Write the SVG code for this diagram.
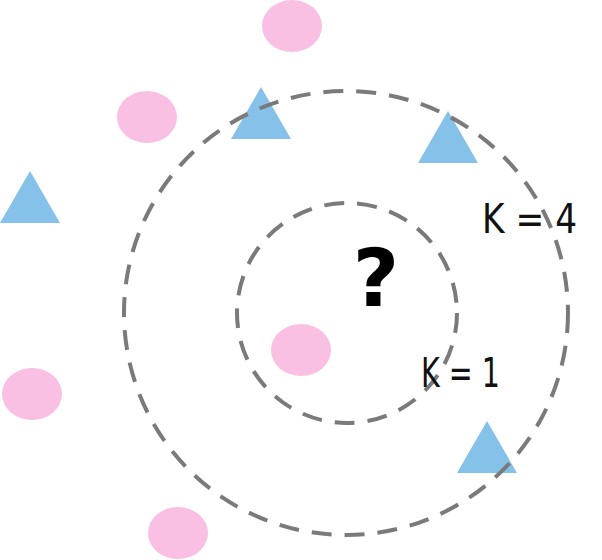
<svg xmlns="http://www.w3.org/2000/svg" width="602" height="560" viewBox="0 0 602 560">
<style>
.pt{fill:#F9C0E4}
.tri{fill:#85C1E9}
.ring{fill:none;stroke:#7a7a7a;stroke-width:4;stroke-dasharray:20 13}
.lbl{font-family:"DejaVu Sans",sans-serif;font-size:40px;fill:#111}
</style>
<rect width="602" height="560" fill="#fff"/>
<g id="p1"><ellipse class="pt" cx="292" cy="26" rx="30" ry="26"/></g>
<g id="p2"><ellipse class="pt" cx="147" cy="117" rx="30" ry="26"/></g>
<g id="p3"><ellipse class="pt" cx="32" cy="394" rx="30" ry="26"/></g>
<g id="p4"><ellipse class="pt" cx="178" cy="533" rx="30" ry="26"/></g>
<g id="p5"><ellipse class="pt" cx="301" cy="350" rx="30" ry="26"/></g>
<g id="t1"><polygon class="tri" points="261,87 291,139 231,139"/></g>
<g id="t2"><polygon class="tri" points="448,111 478,163 418,163"/></g>
<g id="t3"><polygon class="tri" points="30,171 60,223 0,223"/></g>
<g id="t4"><polygon class="tri" points="487,421 517,473 457,473"/></g>
<g id="connectors">
<circle class="ring" cx="346" cy="313" r="222"/>
<circle class="ring" cx="347" cy="313" r="110"/>
</g>
<g id="q"><text x="376" y="306" text-anchor="middle" font-family="DejaVu Sans, sans-serif" font-weight="bold" font-size="80" fill="#000">?</text></g>
<g id="k4"><text class="lbl" x="482" y="233" textLength="95" lengthAdjust="spacingAndGlyphs">K = 4</text></g>
<g id="k1"><text class="lbl" x="421" y="387" textLength="79" lengthAdjust="spacingAndGlyphs">K = 1</text></g>
</svg>
